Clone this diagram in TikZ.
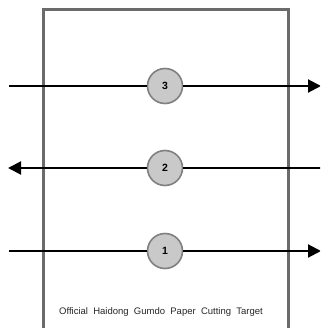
\documentclass[tikz,border=0pt]{standalone}
\usepackage{fontspec}
\setmainfont{Liberation Sans}
\usetikzlibrary{arrows.meta}
\begin{document}
\begin{tikzpicture}[x=1pt,y=-1pt,
  frame/.style={draw=black!58,line width=3pt},
  numcircle/.style={circle,draw=black!50,line width=1.6pt,fill=black!21,minimum size=35pt,inner sep=0pt,font=\bfseries\fontsize{10.5}{11}\selectfont},
  cutline/.style={draw=black,line width=2pt},
  cutarrow/.style={cutline,-{Triangle[length=13pt,width=13pt]}},
  caption/.style={font=\fontsize{9.5}{11}\selectfont,inner sep=0pt,text=black!85}]
\clip (0,0) rectangle (320,328);
\fill[white] (0,0) rectangle (320,328);
\draw[frame] (43,345) -- (43,10) -- (288,10) -- (288,345);
\node[numcircle] (c3) at (165,86) {3};
\node[numcircle] (c2) at (165,168) {2};
\node[numcircle] (c1) at (165,251) {1};
\coordinate (l3) at (9,86);
\coordinate (r3) at (321,86);
\coordinate (l2) at (8,168);
\coordinate (r2) at (322,168);
\coordinate (l1) at (9,251);
\coordinate (r1) at (321,251);
\draw[cutline] (l3) -- (c3);
\draw[cutarrow] (c3) -- (r3);
\draw[cutline] (r2) -- (c2);
\draw[cutarrow] (c2) -- (l2);
\draw[cutline] (l1) -- (c1);
\draw[cutarrow] (c1) -- (r1);
\node[caption] (cap) at (161,312) {Official\ \ Haidong\ \ Gumdo\ \ Paper\ \ Cutting\ \ Target};
\end{tikzpicture}
\end{document}
